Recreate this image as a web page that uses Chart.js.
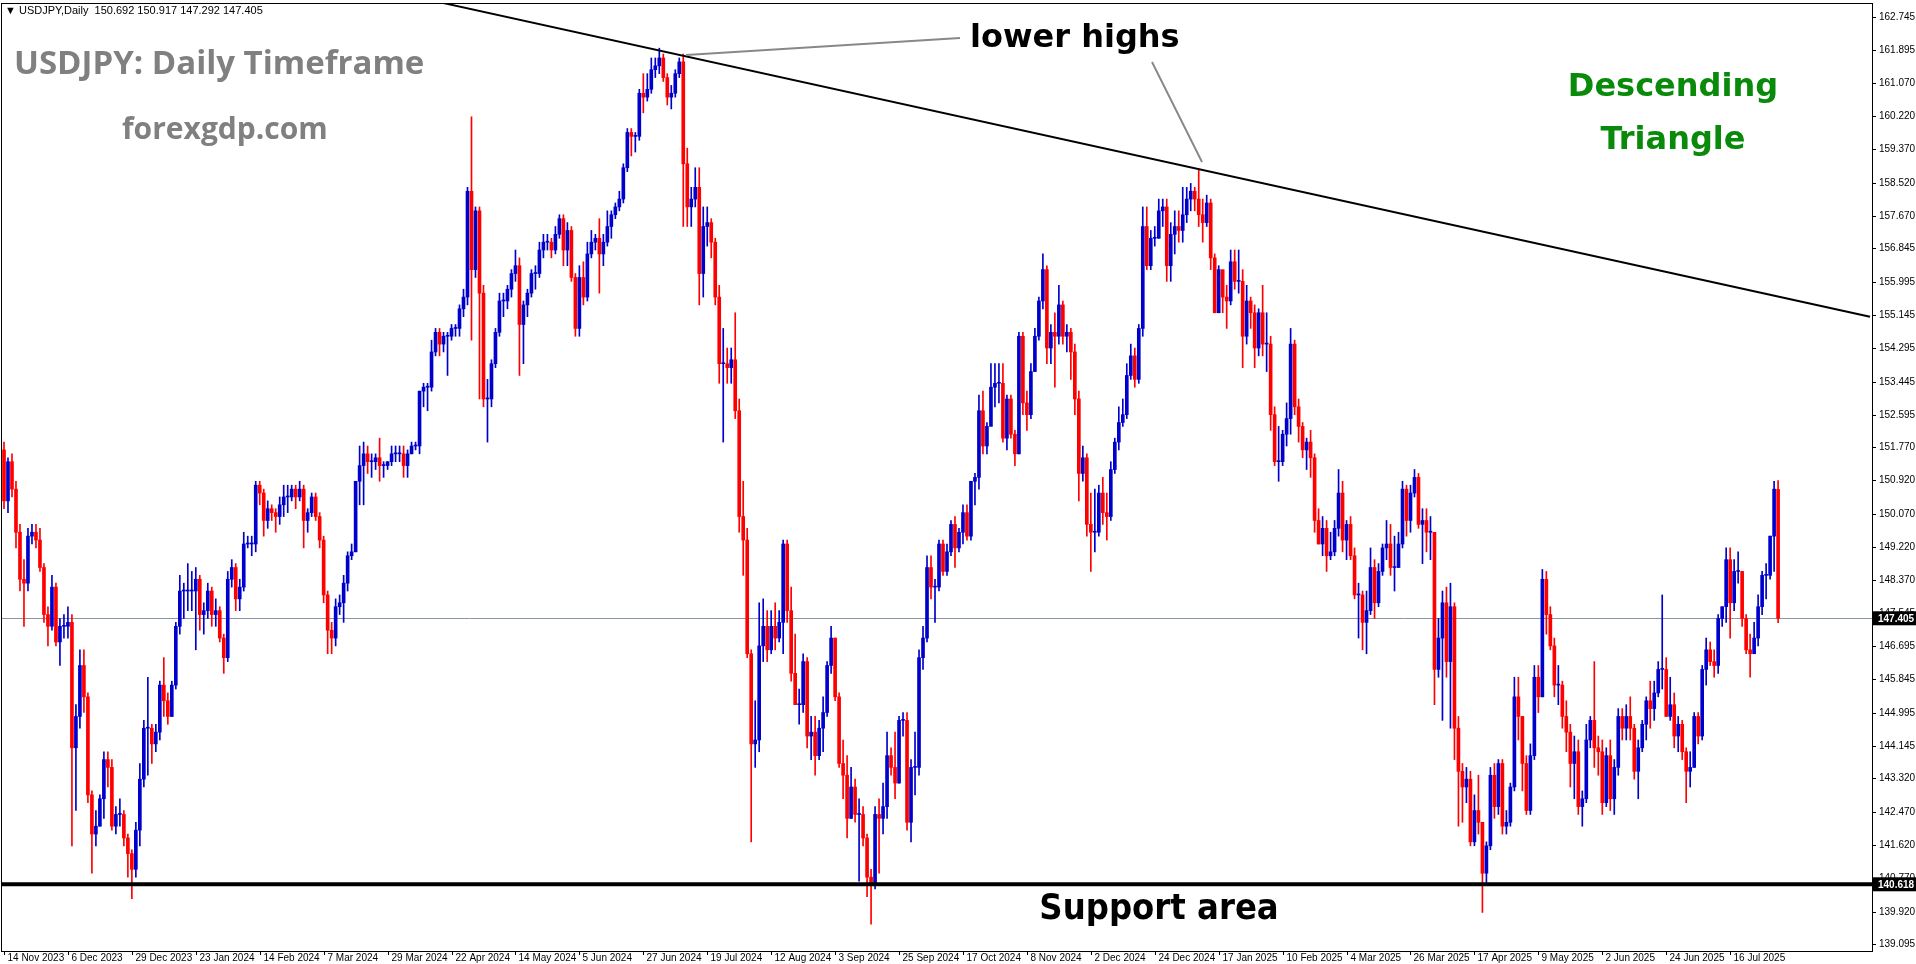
<!DOCTYPE html>
<html><head><meta charset="utf-8">
<script src="https://cdn.jsdelivr.net/npm/chart.js@4.4.1/dist/chart.umd.min.js"></script>
<style>html,body{margin:0;padding:0;background:#fff;overflow:hidden}canvas{display:block}</style>
</head><body><canvas id="c" width="1916" height="964"></canvas>
<script>
// ---- DATA (USDJPY daily, 14 Nov 2023 – 1 Aug 2025) ----
const firstOpen = 151.7;
const closes = [
150.4,151.4,150.7,149.6,148.4,148.3,149.5,149.6,149.4,148.7,147.5,147.2,148.2,
146.8,147.2,147.2,147.3,144.1,144.9,146.2,145.4,142.9,141.9,142.1,142.8,143.8,143.6,142.1,142.4,142.4,141.8,141.4,141.0,
142.0,143.3,144.6,144.6,144.2,144.5,145.7,145.3,144.9,145.7,147.2,148.1,148.1,148.1,148.1,148.4,147.5,147.6,148.1,147.5,147.6,146.9,
146.4,148.4,148.7,147.9,148.2,149.3,149.3,149.3,150.8,150.6,149.9,150.2,150.1,150.0,150.3,150.5,150.5,150.7,150.5,150.7,149.9,
150.1,150.5,150.0,149.4,148.0,147.1,146.9,147.7,147.8,148.3,149.0,149.1,150.9,151.3,151.6,151.4,151.4,151.5,151.3,151.3,151.4,
151.6,151.6,151.6,151.3,151.6,151.8,151.8,153.2,153.3,153.3,154.2,154.7,154.4,154.6,154.6,154.8,154.8,155.3,155.6,158.3,156.3,157.8,
155.7,153.0,153.0,153.9,154.7,155.5,155.5,155.8,156.2,156.4,154.9,155.4,155.7,156.2,156.2,156.8,157.0,157.0,156.8,157.2,157.6,156.8,157.3,
156.1,154.8,156.1,155.6,156.7,157.0,157.1,156.7,157.0,157.4,157.7,157.9,158.1,158.9,159.8,159.7,159.7,160.8,160.7,160.9,
161.4,161.5,161.7,161.2,160.7,160.8,161.3,161.6,159.0,157.9,158.1,158.4,156.2,157.4,157.5,157.0,155.6,153.9,153.9,153.8,154.0,152.7,150.0,
149.4,146.5,144.2,144.3,146.7,147.2,146.6,147.2,146.9,147.3,149.3,147.6,146.0,145.2,145.2,146.3,144.4,144.5,143.9,144.6,145.0,146.2,
146.9,145.4,143.7,143.4,142.3,143.1,142.4,142.4,141.8,140.8,140.6,142.4,142.3,142.6,143.9,143.6,143.2,144.8,144.8,142.2,143.6,
143.6,146.4,146.9,148.7,148.2,148.2,149.3,148.6,149.1,149.8,149.2,149.6,150.1,149.5,150.9,151.0,152.7,151.8,152.3,153.3,153.4,153.4,152.0,
153.0,152.1,151.6,154.6,152.9,152.6,153.7,154.6,155.5,156.3,154.3,154.7,154.6,155.4,154.6,154.7,154.2,153.0,151.1,151.5,149.8,
149.6,149.6,150.6,150.1,150.0,151.2,151.9,152.4,152.6,153.6,154.1,153.5,154.8,157.4,156.4,157.1,157.1,157.8,157.9,156.4,157.2,
157.4,157.3,157.7,158.1,158.3,158.1,157.7,157.5,158.0,156.6,155.2,156.3,155.6,155.5,156.5,156.0,156.0,154.6,155.5,155.2,154.3,155.2,
154.4,154.4,152.6,151.4,151.4,152.1,152.5,154.4,152.8,152.3,151.7,151.9,151.5,149.9,149.3,149.7,149.0,149.1,149.7,150.6,
149.4,149.8,149.0,148.0,148.0,147.3,147.6,148.7,147.8,148.6,149.2,149.3,148.7,148.7,149.3,150.7,149.9,150.6,151.0,149.8,149.9,
149.6,149.6,146.1,146.9,147.8,146.3,147.7,144.6,143.5,143.1,143.3,141.7,142.5,142.2,140.9,141.6,143.4,142.6,143.7,142.1,142.2,143.1,
145.4,144.9,143.7,142.5,143.9,145.9,145.4,148.4,147.5,146.7,145.7,145.7,144.9,144.5,143.7,144.0,142.6,142.8,144.3,144.8,144.1,144.0,
142.7,143.9,142.8,143.6,144.9,144.6,144.9,144.6,143.5,144.1,144.7,145.3,145.1,145.5,146.1,146.1,144.9,145.2,144.4,144.7,144.0,
143.5,143.6,144.9,144.4,146.1,146.6,146.3,146.2,147.4,147.7,148.9,147.8,148.6,148.6,147.4,146.6,146.5,146.9,147.7,148.5,148.5,149.5,150.7,
147.405];
const highs = [
151.9,151.5,151.6,150.9,149.8,148.9,149.7,149.8,149.8,149.7,148.8,147.7,148.5,
148.3,147.4,147.5,147.7,147.5,145.2,146.6,146.6,145.5,143.0,142.5,142.9,144.0,144.0,143.8,142.6,142.8,142.5,141.9,141.5,
142.2,143.7,144.8,145.9,144.7,144.7,145.8,146.4,145.5,145.8,147.3,148.5,148.3,148.8,148.6,148.7,148.5,147.8,148.3,148.2,147.9,147.7,
147.0,148.6,148.9,148.8,148.4,149.6,149.5,149.5,150.9,150.9,150.7,150.4,150.3,150.2,150.5,150.8,150.8,150.8,150.8,150.9,150.8,
150.2,150.6,150.6,150.1,149.5,148.1,147.3,147.9,148.0,148.5,149.1,149.3,150.9,151.8,151.9,151.8,151.6,151.6,152.0,151.4,151.4,
151.8,151.8,151.8,151.8,151.7,151.9,151.9,153.2,153.4,153.4,154.5,154.8,154.8,154.7,154.7,154.9,154.9,155.4,155.8,158.4,160.2,157.9,
157.9,155.9,153.5,154.0,154.8,155.7,155.7,155.9,156.3,156.8,156.6,155.5,155.8,156.3,156.4,157.0,157.2,157.2,157.1,157.4,157.7,157.7,157.5,
157.4,156.2,156.4,156.5,157.0,157.3,157.2,157.6,157.2,157.8,157.8,158.0,158.3,159.0,159.9,159.9,159.8,160.9,161.3,161.3,
161.7,161.7,161.95,161.8,161.3,161.0,161.4,161.7,161.8,159.4,158.4,158.9,158.9,157.9,157.9,157.6,157.1,155.9,154.8,154.3,154.3,155.2,153.0,
150.9,149.7,146.6,145.3,147.8,147.9,147.6,147.6,147.8,147.6,149.4,149.4,148.2,147.0,145.6,146.5,146.4,144.9,144.9,144.8,145.4,146.3,
147.2,146.9,145.5,144.3,143.9,143.6,143.3,142.8,142.6,141.9,141.0,142.6,142.8,143.2,144.5,144.1,144.5,144.9,145.0,145.0,143.8,
144.5,146.6,147.2,149.0,149.0,148.4,149.4,149.4,149.3,149.9,150.0,149.7,150.3,150.3,150.9,151.1,153.1,153.2,152.4,153.9,153.9,153.9,153.9,
153.1,153.1,152.2,154.7,154.7,153.2,153.9,154.8,155.6,156.7,156.4,154.9,155.2,155.9,155.5,154.9,154.8,154.4,153.2,151.8,151.6,
150.6,150.7,150.8,151.0,150.6,151.4,152.0,152.8,153.0,153.9,154.4,154.3,154.9,157.9,157.9,157.3,157.4,158.1,158.1,158.1,157.5,
157.8,157.8,158.4,158.4,158.5,158.4,158.87,158.1,158.2,158.1,156.7,156.4,156.2,155.9,156.8,156.8,156.8,156.3,155.9,155.6,155.4,155.3,
155.9,155.2,154.6,152.8,152.3,152.2,152.9,154.8,154.5,153.0,152.4,152.0,152.2,151.6,150.2,150.0,149.9,149.6,149.9,151.2,
150.9,149.9,150.0,149.2,148.3,148.1,148.1,149.2,148.9,148.8,149.3,149.9,149.8,149.5,149.6,150.9,150.8,150.8,151.2,151.1,150.2,
150.2,150.0,149.3,147.4,148.1,148.2,148.3,147.8,144.9,143.7,143.6,143.5,142.9,143.4,142.2,141.7,143.6,143.7,143.8,143.8,142.5,143.2,
145.9,145.9,144.9,143.9,144.2,146.2,146.2,148.65,148.6,147.7,146.9,146.2,145.8,145.3,144.7,144.4,144.3,143.0,144.7,144.9,146.3,144.4,
144.3,144.1,144.3,143.8,145.1,145.1,145.2,145.4,144.7,144.3,144.8,145.4,145.8,145.8,146.3,148.0,146.4,145.9,145.5,144.9,144.8,
144.1,144.0,145.0,145.0,146.2,146.9,146.8,146.6,147.5,147.7,149.2,149.2,148.9,149.1,148.6,147.5,147.0,147.3,148.0,148.6,148.8,149.5,150.9,
150.917];
const lows = [
150.2,150.1,150.5,149.2,148.1,147.2,148.1,149.3,149.2,148.6,147.3,146.7,147.1,
146.7,146.2,146.9,146.9,141.6,142.5,144.6,145.0,142.7,140.9,141.6,142.1,142.3,143.1,142.0,141.9,142.1,141.6,140.8,140.25,
140.8,141.6,143.1,143.4,143.7,144.0,144.3,144.9,144.7,144.9,145.6,147.0,147.4,147.6,147.6,146.6,147.1,147.0,147.4,147.2,147.2,146.8,
146.0,146.3,148.2,147.6,147.6,148.1,149.2,149.0,149.1,150.3,149.5,149.7,149.9,149.6,149.8,150.0,150.1,150.4,150.2,150.4,149.2,
149.6,150.0,149.9,149.2,147.8,146.5,146.5,146.7,147.5,147.3,148.1,148.9,149.1,150.3,150.3,151.1,151.0,151.2,150.9,151.0,151.2,
151.3,151.4,151.4,151.0,151.0,151.6,151.7,151.6,152.8,152.7,153.2,154.1,154.1,154.2,153.6,154.5,154.6,154.6,155.1,155.4,154.5,156.1,
153.0,152.8,151.9,152.8,153.8,154.6,155.1,155.3,155.6,156.0,153.6,153.9,155.1,155.6,155.8,156.1,156.6,156.8,156.6,156.7,157.1,156.4,156.4,
156.0,154.6,154.6,155.4,155.5,156.6,156.8,155.7,156.4,156.9,157.1,157.6,157.8,158.0,158.8,159.2,159.3,159.6,160.3,160.6,
160.8,161.2,161.3,161.1,160.5,160.4,160.7,161.2,157.4,157.4,157.4,157.9,155.4,155.6,156.9,156.6,155.4,153.4,151.9,153.4,153.4,152.5,149.6,
148.5,146.4,141.7,143.6,144.0,146.3,146.3,146.5,146.6,146.8,146.5,147.3,145.8,145.2,144.7,145.0,144.1,143.8,143.4,143.8,144.0,144.9,
146.0,145.3,143.6,142.8,141.8,142.3,142.2,140.7,141.6,140.3,139.6,140.5,140.9,141.9,142.3,143.4,142.8,143.2,144.4,142.0,141.7,
142.9,143.4,146.1,146.8,147.9,147.3,148.1,148.5,148.5,149.0,148.7,149.1,149.3,149.4,149.4,150.3,150.7,151.6,151.6,152.4,152.8,152.9,151.9,
151.7,152.0,151.3,151.6,152.6,152.2,152.5,153.7,154.5,155.3,153.9,153.9,153.3,154.4,154.4,154.2,153.5,152.6,150.4,150.9,149.5,
148.6,149.1,149.5,149.8,149.4,149.9,151.1,151.7,152.3,152.5,153.5,153.3,153.4,154.6,156.3,156.3,156.9,157.1,157.4,156.0,156.0,
156.7,157.0,157.0,157.5,157.8,157.8,157.4,157.0,157.4,156.3,155.2,155.2,155.2,154.8,155.4,155.8,155.7,153.8,154.4,154.8,153.8,154.1,
154.1,153.7,152.2,151.3,150.9,151.3,151.8,152.1,152.6,151.9,151.5,151.2,151.0,149.6,149.3,149.0,148.6,148.9,149.0,149.5,
149.1,148.9,148.9,147.9,146.9,146.6,146.5,147.5,147.4,147.7,148.5,148.9,148.5,148.1,148.7,149.2,149.5,149.6,150.5,149.7,148.8,
149.1,148.9,145.2,145.9,144.8,145.9,144.6,143.8,142.1,142.2,142.7,141.6,141.6,141.9,139.9,140.6,141.5,142.3,142.4,141.9,141.9,142.1,
143.0,144.3,143.0,142.4,142.4,143.8,145.0,145.4,147.0,146.6,145.4,145.2,144.6,144.0,143.1,142.8,142.4,142.1,142.7,144.1,143.6,143.4,
142.4,142.6,142.5,142.4,143.4,144.3,144.3,144.3,143.3,142.8,144.0,144.3,144.6,144.8,145.4,145.6,144.9,144.8,144.1,144.0,143.8,
142.7,143.1,143.6,144.2,144.3,145.7,146.2,145.9,146.0,147.2,147.3,146.9,147.6,148.3,147.2,146.5,145.9,146.5,146.7,147.5,147.9,148.4,148.6,
147.292];
const lastOpen = 150.692;
const yTickValues = [162.745,161.895,161.070,160.220,159.370,158.520,157.670,156.845,155.995,155.145,154.295,153.445,152.595,151.770,150.920,150.070,149.220,148.370,147.545,146.695,145.845,144.995,144.145,143.320,142.470,141.620,140.770,139.920,139.095];
const xTickLabels = ["14 Nov 2023","6 Dec 2023","29 Dec 2023","23 Jan 2024","14 Feb 2024","7 Mar 2024","29 Mar 2024","22 Apr 2024","14 May 2024","5 Jun 2024","27 Jun 2024","19 Jul 2024","12 Aug 2024","3 Sep 2024","25 Sep 2024","17 Oct 2024","8 Nov 2024","2 Dec 2024","24 Dec 2024","17 Jan 2025","10 Feb 2025","4 Mar 2025","26 Mar 2025","17 Apr 2025","9 May 2025","2 Jun 2025","24 Jun 2025","16 Jul 2025"];
const xTickEvery = 16;
const currentPrice = 147.405;
const supportPrice = 140.618;
const trendStart = {i:110, p:163.1};
const trendEnd = {i:467, p:155.1};
const shiftBars = 23;

// ---- build ----
const n = closes.length;
const opens = closes.map((c,i)=> i===0 ? firstOpen : (i===n-1 ? lastOpen : closes[i-1]));
const labels = [];
for (let i=0;i<n+shiftBars;i++) labels.push(String(i));
const bodies = [], wicks = [], cols = [];
for (let i=0;i<n;i++){
  bodies.push([opens[i], closes[i]]);
  wicks.push([lows[i], highs[i]]);
  cols.push(closes[i] >= opens[i] ? '#0000CC' : '#FF0000');
}

const overlay = {
  id:'overlay',
  beforeDatasetsDraw(chart){
    const {ctx, chartArea:a, scales:{y}} = chart;
    ctx.save();
    const yc = Math.round(y.getPixelForValue(currentPrice))+0.5;
    ctx.strokeStyle='#8a96a3'; ctx.lineWidth=1;
    ctx.beginPath(); ctx.moveTo(a.left,yc); ctx.lineTo(a.right,yc); ctx.stroke();
    ctx.restore();
  },
  afterDatasetsDraw(chart){
    const {ctx, chartArea:a, scales:{x,y}} = chart;
    ctx.save();
    ctx.beginPath(); ctx.rect(a.left,a.top,a.right-a.left,a.bottom-a.top); ctx.clip();
    const ys = y.getPixelForValue(supportPrice);
    ctx.strokeStyle='#000'; ctx.lineWidth=4;
    ctx.beginPath(); ctx.moveTo(a.left,ys); ctx.lineTo(a.right,ys); ctx.stroke();
    ctx.lineWidth=2;
    ctx.beginPath();
    ctx.moveTo(x.getPixelForValue(trendStart.i), y.getPixelForValue(trendStart.p));
    ctx.lineTo(x.getPixelForValue(trendEnd.i), y.getPixelForValue(trendEnd.p));
    ctx.stroke();
    ctx.strokeStyle='#888'; ctx.lineWidth=2;
    ctx.beginPath(); ctx.moveTo(960,38); ctx.lineTo(686,55); ctx.stroke();
    ctx.beginPath(); ctx.moveTo(1152,62); ctx.lineTo(1202,162); ctx.stroke();
    ctx.restore();

    ctx.save();
    ctx.strokeStyle='#000'; ctx.lineWidth=1;
    ctx.strokeRect(a.left-0.5,a.top-0.5,a.right-a.left+1,a.bottom-a.top+1);
    ctx.font='10px "Liberation Sans"'; ctx.fillStyle='#000'; ctx.textBaseline='middle'; ctx.textAlign='left';
    yTickValues.forEach(v=>{
      const py = Math.round(y.getPixelForValue(v))+0.5;
      ctx.beginPath(); ctx.moveTo(a.right,py); ctx.lineTo(a.right+4,py); ctx.stroke();
      ctx.fillText(v.toFixed(3), a.right+7, py);
    });
    [[currentPrice,'147.405'],[supportPrice,'140.618']].forEach(([v,t])=>{
      const py = y.getPixelForValue(v);
      ctx.fillStyle='#000'; ctx.fillRect(a.right+1, py-7, 44, 14);
      ctx.fillStyle='#fff'; ctx.font='bold 10px "Liberation Sans"'; ctx.fillText(t, a.right+6, py+0.5);
    });
    ctx.fillStyle='#000'; ctx.font='10px "Liberation Sans Narrow","Liberation Sans"'; ctx.textBaseline='top';
    xTickLabels.forEach((t,k)=>{
      const px = Math.round(x.getPixelForValue(k*xTickEvery))+0.5;
      ctx.beginPath(); ctx.moveTo(px,a.bottom); ctx.lineTo(px,a.bottom+4); ctx.stroke();
      ctx.fillText(t, px+3, a.bottom+2);
    });
    ctx.font='11px "Liberation Sans"'; ctx.textBaseline='middle';
    ctx.fillText('▼ USDJPY,Daily  150.692 150.917 147.292 147.405', 5, 11);
    ctx.fillStyle='#808080'; ctx.font='bold 33px "Open Sans"';
    ctx.fillText('USDJPY: Daily Timeframe', 14, 65);
    ctx.font='bold 30px "Open Sans"';
    ctx.fillText('forexgdp.com', 122, 130);
    ctx.fillStyle='#000'; ctx.font='bold 32px "DejaVu Sans"';
    ctx.fillText('lower highs', 970, 39);
    ctx.fillStyle='#0A8A0A'; ctx.textAlign='center'; ctx.font='bold 32px "DejaVu Sans"';
    ctx.fillText('Descending', 1673, 88);
    ctx.fillText('Triangle', 1673, 141);
    ctx.fillStyle='#000'; ctx.font='bold 36px "Liberation Sans Narrow","DejaVu Sans Condensed"';
    ctx.fillText('Support area', 1159, 910);
    ctx.restore();
  }
};

new Chart(document.getElementById('c'), {
  type:'bar',
  data:{ labels, datasets:[
    {data:wicks, backgroundColor:cols, barThickness:1, grouped:false, order:2},
    {data:bodies, backgroundColor:cols, barThickness:3, minBarLength:1, grouped:false, order:1}
  ]},
  options:{
    responsive:false, animation:false, devicePixelRatio:1,
    layout:{padding:{left:2, top:4, right:44, bottom:13}},
    plugins:{legend:{display:false}, tooltip:{enabled:false}},
    scales:{
      x:{display:false, offset:true},
      y:{display:false, min:138.916, max:163.077}
    }
  },
  plugins:[overlay]
});
</script></body></html>
